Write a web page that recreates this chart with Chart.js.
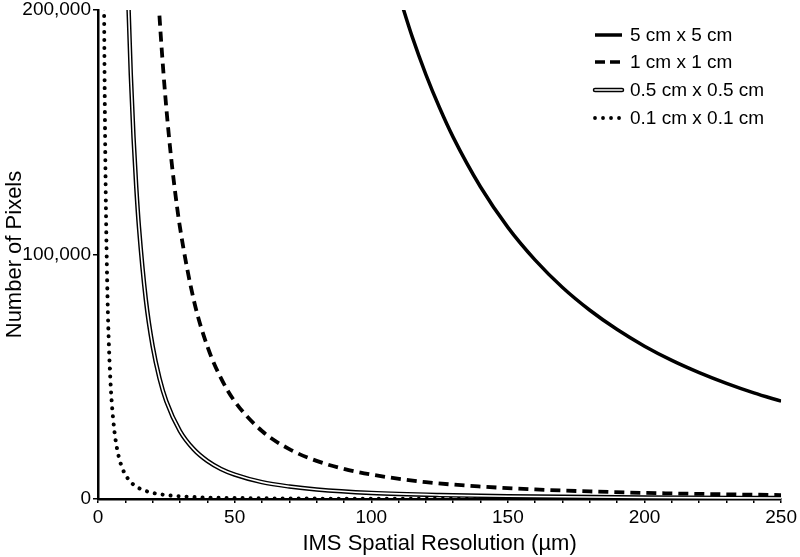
<!DOCTYPE html>
<html>
<head>
<meta charset="utf-8">
<script src="https://cdn.jsdelivr.net/npm/chart.js@4.4.1/dist/chart.umd.min.js"></script>
<style>
  html, body { margin: 0; padding: 0; background: #fff; }
  #wrap { width: 800px; height: 557px; }
</style>
</head>
<body>
<div id="wrap"><canvas id="grafico" width="800" height="557"></canvas></div>
<script>
// valores (resolucion en um -> numero de pixeles)
const seriesNames = ['5 cm x 5 cm', '1 cm x 1 cm', '0.5 cm x 0.5 cm', '0.1 cm x 0.1 cm'];

const res5cm = [110, 115, 120, 125, 130, 140, 150, 160, 170, 180, 190, 200, 210, 220, 230, 240, 250];
const pix5cm = [206600, 189000, 173600, 160000, 147900, 127600, 111100, 97700, 86500, 77200, 69300, 62500, 56700, 51700, 47300, 43400, 40000];

const res1cm = [20, 22, 24, 26, 28, 30, 35, 40, 45, 50, 60, 70, 80, 90, 100, 120, 140, 160, 180, 200, 225, 250];
const pix1cm = [250000, 206600, 173600, 147900, 127600, 111100, 81600, 62500, 49400, 40000, 27800, 20400, 15600, 12300, 10000, 6900, 5100, 3900, 3100, 2500, 2000, 1600];

const res05cm = [10, 11, 12, 13, 14, 15, 17.5, 20, 22.5, 25, 30, 35, 40, 45, 50, 60, 70, 80, 100, 125, 150, 200, 250];
const pix05cm = [250000, 206600, 173600, 147900, 127600, 111100, 81600, 62500, 49400, 40000, 27800, 20400, 15600, 12300, 10000, 6900, 5100, 3900, 2500, 1600, 1100, 600, 400];

const res01cm = [2, 2.2, 2.4, 2.6, 2.8, 3, 3.5, 4, 4.5, 5, 6, 7, 8, 9, 10, 12, 14, 16, 20, 25, 30, 40, 50, 75, 100, 150, 200, 250];
const pix01cm = [250000, 206600, 173600, 147900, 127600, 111100, 81600, 62500, 49400, 40000, 27800, 20400, 15600, 12300, 10000, 6900, 5100, 3900, 2500, 1600, 1100, 600, 400, 180, 100, 40, 25, 16];

const xTicks = [0, 50, 100, 150, 200, 250];
const yTicks = [0, 100000, 200000];

const toPoints = (xs, ys) => xs.map((x, i) => ({ x: x, y: ys[i] }));

const fuente = 'Liberation Sans, Arial, sans-serif';

// leyenda dibujada a mano, arriba a la derecha
const leyenda = {
  id: 'leyenda',
  afterDraw(chart) {
    const ctx = chart.ctx;
    const x0 = 595, x1 = 622, tx = 630;
    const ys = [35, 62, 90, 118];
    ctx.save();
    ctx.strokeStyle = '#000';
    ctx.lineCap = 'butt';
    // 5 cm
    ctx.lineWidth = 3.5;
    ctx.beginPath(); ctx.moveTo(x0, ys[0]); ctx.lineTo(x1, ys[0]); ctx.stroke();
    // 1 cm
    ctx.setLineDash([10, 5]);
    ctx.beginPath(); ctx.moveTo(x0, ys[1]); ctx.lineTo(x1 + 2, ys[1]); ctx.stroke();
    ctx.setLineDash([]);
    // 0.5 cm doble
    ctx.lineWidth = 4.5;
    ctx.lineCap = 'round';
    ctx.beginPath(); ctx.moveTo(x0, ys[2]); ctx.lineTo(x1, ys[2]); ctx.stroke();
    ctx.strokeStyle = '#fff';
    ctx.lineWidth = 1.6;
    ctx.beginPath(); ctx.moveTo(x0, ys[2]); ctx.lineTo(x1, ys[2]); ctx.stroke();
    // 0.1 cm punteada
    ctx.strokeStyle = '#000';
    ctx.lineWidth = 3.8;
    ctx.setLineDash([0.01, 8]);
    ctx.beginPath(); ctx.moveTo(x0, ys[3]); ctx.lineTo(x1, ys[3]); ctx.stroke();
    ctx.setLineDash([]);

    ctx.fillStyle = '#000';
    ctx.font = '19px ' + fuente;
    ctx.textBaseline = 'middle';
    seriesNames.forEach((n, i) => ctx.fillText(n, tx, ys[i] + 1));
    ctx.restore();
  }
};

const ctx = document.getElementById('grafico').getContext('2d');

new Chart(ctx, {
  type: 'line',
  data: {
    datasets: [
      {
        label: seriesNames[0],
        data: toPoints(res5cm, pix5cm),
        borderColor: '#000',
        borderWidth: 3.5,
        order: 4
      },
      {
        label: seriesNames[1],
        data: toPoints(res1cm, pix1cm),
        borderColor: '#000',
        borderWidth: 3.8,
        borderDash: [10, 6],
        order: 4
      },
      {
        label: seriesNames[2],
        data: toPoints(res05cm, pix05cm),
        borderColor: '#000',
        borderWidth: 4.5,
        order: 3
      },
      {
        label: seriesNames[2] + ' (interior)',
        data: toPoints(res05cm, pix05cm),
        borderColor: '#fff',
        borderWidth: 1.6,
        order: 1
      },
      {
        label: seriesNames[3],
        data: toPoints(res01cm, pix01cm),
        borderColor: '#000',
        borderWidth: 4,
        borderDash: [0.01, 8],
        borderCapStyle: 'round',
        order: 2
      }
    ]
  },
  options: {
    responsive: false,
    animation: false,
    events: [],
    elements: {
      point: { radius: 0 },
      line: { cubicInterpolationMode: 'monotone', fill: false }
    },
    layout: { padding: { top: 0, right: 17, left: 0, bottom: 0 } },
    plugins: {
      legend: { display: false },
      tooltip: { enabled: false }
    },
    scales: {
      x: {
        type: 'linear',
        min: 0,
        max: 250,
        afterFit: (s) => { s.height = 58; },
        border: { display: true, color: '#000', width: 2.5 },
        grid: { drawOnChartArea: false, drawTicks: true, tickLength: 4, color: '#000', lineWidth: 1.5 },
        ticks: {
          stepSize: 10,
          autoSkip: false,
          maxRotation: 0,
          color: '#000',
          padding: 3,
          font: { family: fuente, size: 19 },
          callback: (v) => xTicks.includes(v) ? String(v) : ''
        },
        title: {
          display: true,
          text: 'IMS Spatial Resolution (µm)',
          color: '#000',
          font: { family: fuente, size: 22 },
          padding: { top: 0, bottom: 0 }
        }
      },
      y: {
        type: 'linear',
        min: 0,
        max: 200000,
        afterFit: (s) => { s.width = 98; s.paddingTop = 10; s.paddingBottom = 0; },
        afterBuildTicks: (s) => { s.ticks = yTicks.map(v => ({ value: v })); },
        border: { display: true, color: '#000', width: 2.5 },
        grid: { drawOnChartArea: false, drawTicks: true, tickLength: 5, color: '#000', lineWidth: 1.5 },
        ticks: {
          color: '#000',
          padding: 2,
          font: { family: fuente, size: 19 },
          callback: (v) => v.toLocaleString('en-US')
        },
        title: {
          display: true,
          text: 'Number of Pixels',
          color: '#000',
          font: { family: fuente, size: 22 },
          padding: { top: 2, bottom: 0 }
        }
      }
    }
  },
  plugins: [leyenda]
});
</script>
</body>
</html>
